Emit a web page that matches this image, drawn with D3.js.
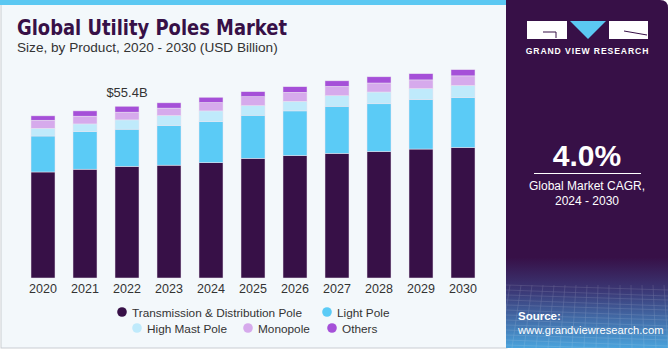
<!DOCTYPE html>
<html><head><meta charset="utf-8">
<script src="https://cdn.jsdelivr.net/npm/d3@7"></script>
<style>
html,body{margin:0;padding:0;background:#fff;}
svg{display:block;font-family:"Liberation Sans",Arial,sans-serif;}
</style></head>
<body>
<svg id="c" width="671" height="350"></svg>
<script>
const years = ["2020","2021","2022","2023","2024","2025","2026","2027","2028","2029","2030"];
const seriesNames = ["Transmission & Distribution Pole","Light Pole","High Mast Pole","Monopole","Others"];
const transmission = [34.2,35.1,36.0,36.4,37.2,38.6,39.5,40.2,40.8,41.6,42.1];
const lightPole    = [11.6,12.1,12.0,12.8,13.2,13.9,14.4,15.2,15.4,16.0,16.1];
const highMast     = [2.5,2.5,3.0,3.2,3.5,3.1,3.1,3.4,3.8,3.5,3.9];
const monopole     = [2.6,2.5,2.5,2.4,2.7,2.9,2.9,3.0,2.9,2.8,3.1];
const others       = [1.4,1.7,1.9,1.7,1.7,1.6,1.8,1.8,2.0,2.0,2.0];
const colors = ["#371047","#5bcbf6","#bfeafb","#d6aaec","#a550d8"];
const annotation = {year:"2022", text:"$55.4B"};

const svg = d3.select("#c");
// backgrounds
svg.append("rect").attr("x",0).attr("y",0).attr("width",671).attr("height",350).attr("fill","#ffffff");
svg.append("rect").attr("x",1).attr("y",0).attr("width",506).attr("height",348).attr("fill","#f3f8fb").attr("stroke","#c9cdd2").attr("stroke-width",1);
svg.append("rect").attr("x",0).attr("y",0).attr("width",507).attr("height",5).attr("fill","#5bc8f2");

// right panel
const defs = svg.append("defs");
const grad = defs.append("linearGradient").attr("id","pg").attr("x1",0).attr("y1",0).attr("x2",0).attr("y2",1);
grad.append("stop").attr("offset","0%").attr("stop-color","#371047");
grad.append("stop").attr("offset","74%").attr("stop-color","#371047");
grad.append("stop").attr("offset","84%").attr("stop-color","#3b3a78");
grad.append("stop").attr("offset","100%").attr("stop-color","#4aa3dc");
svg.append("path")
  .attr("d","M506,0 H660 Q668,0 668,8 V348 H506 Z")
  .attr("fill","url(#pg)");
// grid texture in lower panel
const gg = svg.append("g").attr("opacity",0.18).attr("stroke","#ffffff").attr("stroke-width",0.6);
for(let i=0;i<14;i++){
  gg.append("line").attr("x1",506).attr("x2",668).attr("y1",285+i*5).attr("y2",290+i*5+ (i%2));
}
for(let i=0;i<16;i++){
  gg.append("line").attr("x1",510+i*11).attr("x2",500+i*12).attr("y1",285).attr("y2",348);
}

// logo
svg.append("rect").attr("x",527).attr("y",21).attr("width",40).attr("height",18).attr("fill","#ffffff");
svg.append("path").attr("d","M543,32 H556 V38").attr("fill","none").attr("stroke","#371047").attr("stroke-width",1);
svg.append("path").attr("d","M570,21 L606,21 L588,39 Z").attr("fill","#5bc8f2");
svg.append("rect").attr("x",609).attr("y",21).attr("width",39).attr("height",18).attr("fill","#ffffff");
svg.append("path").attr("d","M624,31 L647,35").attr("stroke","#371047").attr("stroke-width",1);
svg.append("text").attr("x",587.5).attr("y",54).attr("text-anchor","middle").attr("fill","#ffffff")
  .attr("font-size",8.6).attr("font-weight","bold").attr("letter-spacing",0.9).text("GRAND VIEW RESEARCH");

svg.append("text").attr("x",587).attr("y",166).attr("text-anchor","middle").attr("fill","#ffffff")
  .attr("font-size",30).attr("font-weight","bold").text("4.0%");
svg.append("line").attr("x1",534).attr("x2",641).attr("y1",173.5).attr("y2",173.5).attr("stroke","#ffffff").attr("stroke-width",1);
svg.append("text").attr("x",587).attr("y",190).attr("text-anchor","middle").attr("fill","#ffffff")
  .attr("font-size",12).text("Global Market CAGR,");
svg.append("text").attr("x",587).attr("y",205).attr("text-anchor","middle").attr("fill","#ffffff")
  .attr("font-size",12).text("2024 - 2030");
svg.append("text").attr("x",518).attr("y",320).attr("fill","#ffffff").attr("font-size",11.5).attr("font-weight","bold").text("Source:");
svg.append("text").attr("x",518).attr("y",334).attr("fill","#ffffff").attr("font-size",11.2).text("www.grandviewresearch.com");

// titles
svg.append("text").attr("x",17).attr("y",35).attr("fill","#371047").attr("font-size",20.5)
  .attr("font-weight",900).attr("font-family","'DejaVu Sans',sans-serif")
  .attr("textLength",270).attr("lengthAdjust","spacingAndGlyphs").text("Global Utility Poles Market");
svg.append("text").attr("x",17).attr("y",52).attr("fill","#333333").attr("font-size",13.6).text("Size, by Product, 2020 - 2030 (USD Billion)");

// chart
const x = d3.scaleBand().domain(years).range([17.56,488.44]).paddingInner(0.4286).paddingOuter(0.32);
const y = d3.scaleLinear().domain([0,60]).range([278,92]);
const table = years.map((yr,i)=>({year:yr, s0:transmission[i], s1:lightPole[i], s2:highMast[i], s3:monopole[i], s4:others[i]}));
const stack = d3.stack().keys(["s0","s1","s2","s3","s4"])(table);

const g = svg.append("g");
stack.forEach((layer,li)=>{
  g.selectAll(null).data(layer).enter().append("rect")
    .attr("x",d=>x(d.data.year))
    .attr("width",x.bandwidth())
    .attr("y",d=>y(d[1]))
    .attr("height",d=>y(d[0])-y(d[1]))
    .attr("fill",colors[li])
    .attr("stroke","#e9e4f0").attr("stroke-width",0.5);
});

const xAxis = svg.append("g").attr("transform","translate(0,278)")
  .call(d3.axisBottom(x).tickSize(0).tickPadding(6));
xAxis.select(".domain").remove();
xAxis.selectAll("text").attr("font-size",12.5).attr("fill","#333333").attr("font-family","'Liberation Sans',Arial,sans-serif");

// annotation
const ai = years.indexOf(annotation.year);
const total = transmission[ai]+lightPole[ai]+highMast[ai]+monopole[ai]+others[ai];
svg.append("text").attr("x",x(annotation.year)+x.bandwidth()/2).attr("y",y(total)-9)
  .attr("text-anchor","middle").attr("font-size",13).attr("fill","#333333").text(annotation.text);

// legend
const legendPos = [
  {cx:122, cy:312}, {cx:327, cy:312},
  {cx:137, cy:328}, {cx:248, cy:328}, {cx:332, cy:328}
];
const lg = svg.append("g");
seriesNames.forEach((n,i)=>{
  const p = legendPos[i];
  lg.append("circle").attr("cx",p.cx).attr("cy",p.cy).attr("r",4.8).attr("fill",colors[i]);
  lg.append("text").attr("x",p.cx+10).attr("y",p.cy+4.5).attr("font-size",11.8).attr("fill","#333333").text(n);
});
</script>
</body></html>
